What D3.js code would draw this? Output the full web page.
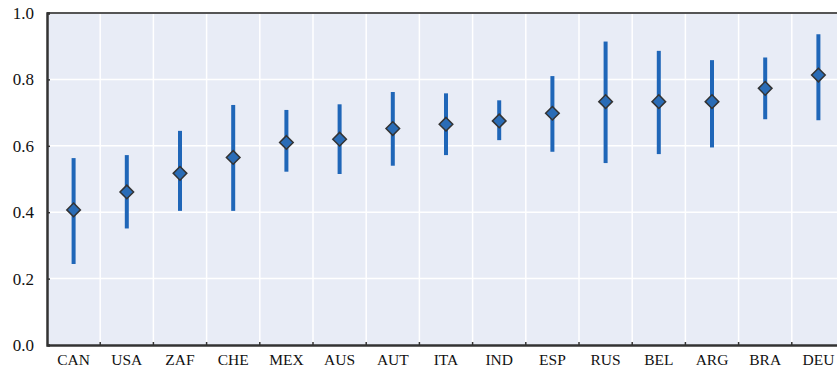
<!DOCTYPE html>
<html><head><meta charset="utf-8">
<script src="https://cdn.jsdelivr.net/npm/d3@7"></script>
<style>body{margin:0;background:#fff;}svg{display:block;}</style>
</head><body>
<svg id="c" width="837" height="368"></svg>
<script>
const categories = ["CAN","USA","ZAF","CHE","MEX","AUS","AUT","ITA","IND","ESP","RUS","BEL","ARG","BRA","DEU"];
const pointValues = [0.407,0.461,0.517,0.565,0.610,0.620,0.652,0.665,0.675,0.698,0.733,0.733,0.733,0.773,0.813];
const lowValues   = [0.244,0.351,0.404,0.404,0.522,0.515,0.540,0.572,0.617,0.582,0.548,0.575,0.595,0.680,0.677];
const highValues  = [0.563,0.572,0.645,0.723,0.708,0.725,0.762,0.758,0.737,0.810,0.914,0.886,0.858,0.866,0.936];
const yTicks = [0, 0.2, 0.4, 0.6, 0.8, 1.0];
const yTickLabels = ["0.0","0.2","0.4","0.6","0.8","1.0"];

const svg = d3.select("#c");
const L = 47, R = 845, T = 13, B = 345;
const x = d3.scaleBand().domain(categories).range([L, R]).padding(0);
const y = d3.scaleLinear().domain([0, 1]).range([B, T]);

svg.append("rect").attr("x", L).attr("y", T).attr("width", R - L).attr("height", B - T).attr("fill", "#e8ecf6");

// grid
const bounds = categories.slice(1).map(c => x(c));
svg.append("g").selectAll("line.v").data(bounds).join("line")
  .attr("x1", d => d).attr("x2", d => d).attr("y1", T).attr("y2", B)
  .attr("stroke", "#fff").attr("stroke-width", 1.5);
svg.append("g").selectAll("line.h").data(yTicks.slice(1, -1)).join("line")
  .attr("x1", L).attr("x2", R).attr("y1", d => y(d)).attr("y2", d => y(d))
  .attr("stroke", "#fff").attr("stroke-width", 1.5);

// frame
svg.append("line").attr("x1", L).attr("x2", R).attr("y1", T).attr("y2", T).attr("stroke", "#555").attr("stroke-width", 2);

// y axis
const yAxis = d3.axisLeft(y).tickValues(yTicks).tickFormat((d, i) => yTickLabels[i]).tickSize(-3).tickPadding(13);
const gy = svg.append("g").attr("transform", `translate(${L},0)`).call(yAxis);
gy.select(".domain").attr("stroke", "#333").attr("stroke-width", 2.5);
gy.selectAll(".tick line").attr("stroke", "#333").attr("stroke-width", 1.5);
gy.selectAll(".tick text").attr("font-family", "Liberation Serif, serif").attr("font-size", 17).attr("fill", "#111");

// x axis
const xAxis = d3.axisBottom(x).tickSize(0).tickPadding(9);
const gx = svg.append("g").attr("transform", `translate(0,${B})`).call(xAxis);
gx.select(".domain").attr("stroke", "#333").attr("stroke-width", 2.5);
gx.selectAll(".tick text").attr("font-family", "Liberation Serif, serif").attr("font-size", 15.5).attr("fill", "#111");
svg.append("g").selectAll("line").data(bounds).join("line")
  .attr("x1", d => d).attr("x2", d => d).attr("y1", B).attr("y2", B - 3)
  .attr("stroke", "#333").attr("stroke-width", 1.5);

// whiskers
const cx = c => x(c) + x.bandwidth() / 2;
svg.append("g").selectAll("line").data(categories).join("line")
  .attr("x1", c => cx(c)).attr("x2", c => cx(c))
  .attr("y1", (c, i) => y(lowValues[i])).attr("y2", (c, i) => y(highValues[i]))
  .attr("stroke", "#1f66b8").attr("stroke-width", 4);

// diamonds
const s = 6.8;
svg.append("g").selectAll("path").data(categories).join("path")
  .attr("d", (c, i) => {
    const px = cx(c), py = y(pointValues[i]);
    return `M${px},${py - s}L${px + s},${py}L${px},${py + s}L${px - s},${py}Z`;
  })
  .attr("fill", "#2a6cb6").attr("stroke", "#333").attr("stroke-width", 1.5);
</script>
</body></html>
